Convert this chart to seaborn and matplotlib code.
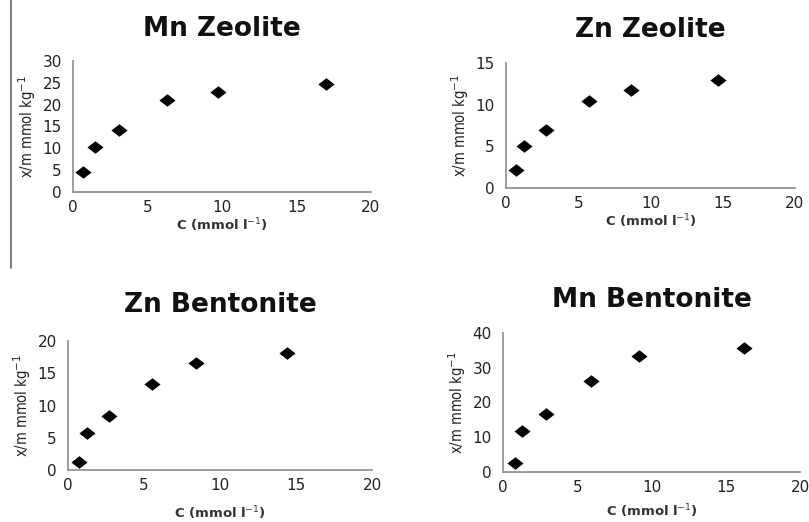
import seaborn as sns
import matplotlib.pyplot as plt
from matplotlib.lines import Line2D
import pandas as pd

# Adsorption isotherm data
mnZeoliteC = [0.7, 1.45, 3.1, 6.3, 9.75, 16.95]
mnZeoliteQ = [4.5, 10.3, 14.2, 21.1, 23.0, 24.7]

znZeoliteC = [0.7, 1.25, 2.77, 5.72, 8.63, 14.7]
znZeoliteQ = [2.2, 5.0, 6.9, 10.4, 11.7, 12.9]

znBentoniteC = [0.73, 1.27, 2.7, 5.52, 8.42, 14.4]
znBentoniteQ = [1.3, 5.8, 8.4, 13.3, 16.6, 18.2]

mnBentoniteC = [0.79, 1.26, 2.88, 5.9, 9.17, 16.25]
mnBentoniteQ = [2.6, 11.8, 16.7, 26.3, 33.4, 35.6]

titles = ['Mn Zeolite', 'Zn Zeolite', 'Zn Bentonite', 'Mn Bentonite']
yMax = [30, 15, 20, 40]
yStep = [5, 5, 5, 10]
xTicks = [0, 5, 10, 15, 20]

series = [(mnZeoliteC, mnZeoliteQ), (znZeoliteC, znZeoliteQ),
          (znBentoniteC, znBentoniteQ), (mnBentoniteC, mnBentoniteQ)]

sns.set_style('white')
plt.rcParams['font.family'] = ['DejaVu Sans']

W, H = 809, 522
fig = plt.figure(figsize=(W / 100, H / 100), dpi=100)

# axes boxes in pixels: left, right, top, bottom
boxes = [(73, 371, 61, 192), (506, 795, 63, 188),
         (68, 372, 341, 470), (503, 800, 333, 472)]
xPads = [1, 1, 8, 5]
titlePads = [18, 19, 21, 19]

diamond = [(-1, 0), (0, 0.78), (1, 0), (0, -0.78), (-1, 0)]

for i, (x, y) in enumerate(series):
    l, r, t, b = boxes[i]
    ax = fig.add_axes([l / W, 1 - b / H, (r - l) / W, (b - t) / H])
    df = pd.DataFrame({'C': x, 'q': y})
    sns.scatterplot(data=df, x='C', y='q', ax=ax, marker=diamond, s=135,
                    color='black', edgecolor='black', linewidth=0, clip_on=False)
    ax.set_xlim(0, 20)
    ax.set_ylim(0, yMax[i])
    ax.set_xticks(xTicks)
    ax.set_yticks(range(0, yMax[i] + 1, yStep[i]))
    ax.tick_params(axis='both', length=0, labelsize=11, colors='#222222')
    ax.tick_params(axis='y', pad=8)
    ax.tick_params(axis='x', pad=6)
    for side in ['top', 'right']:
        ax.spines[side].set_visible(False)
    for side in ['left', 'bottom']:
        ax.spines[side].set_color('#8c8c8c')
        ax.spines[side].set_linewidth(1.2)
    ax.set_xlabel('C (mmol l$^{-1}$)', fontsize=9.5, fontweight='bold',
                  color='#333333', labelpad=xPads[i])
    ax.set_ylabel('x/m mmol kg$^{-1}$', fontsize=10.5, color='#222222',
                  fontstretch='condensed', labelpad=3)
    ax.set_title(titles[i], fontsize=19, fontweight='bold', color='#111111',
                 pad=titlePads[i])

# thin rule along the left edge of the first row
fig.add_artist(Line2D([11 / W, 11 / W], [1 - 268 / H, 1.0], color='#666666', linewidth=1.2))

fig.savefig('out.png', dpi=100)
